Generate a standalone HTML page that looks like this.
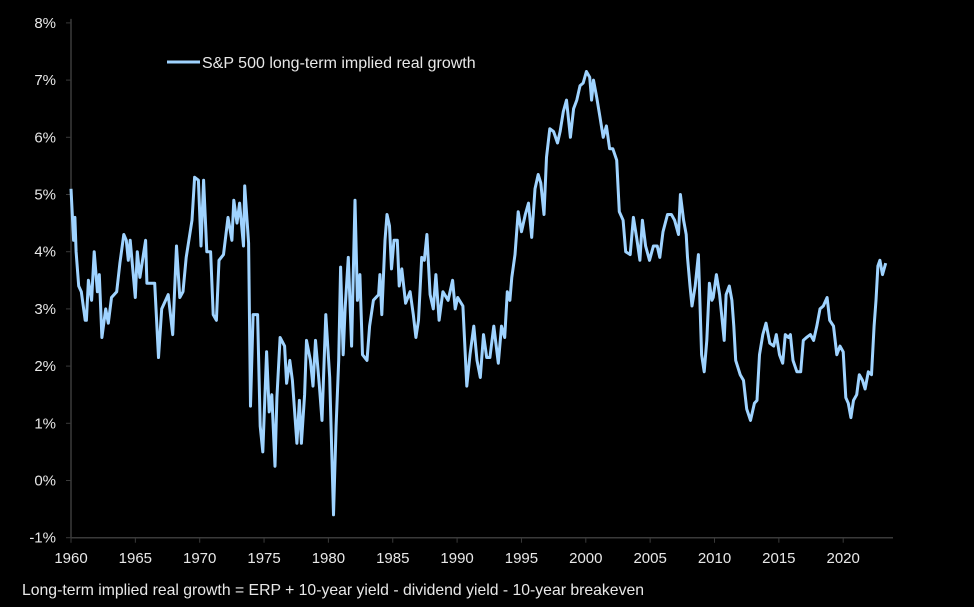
<!DOCTYPE html>
<html><head><meta charset="utf-8"><style>
html,body{margin:0;padding:0;background:#000;}
svg{display:block;}
text{font-family:"Liberation Sans Narrow","Liberation Sans",sans-serif;fill:#e8e8e8;}
</style></head><body>
<svg id="chart" width="974" height="607" viewBox="0 0 974 607" xmlns="http://www.w3.org/2000/svg">
<rect width="974" height="607" fill="#000"/>
<g id="axes"></g>
<path id="series" fill="none" stroke="#9fd3ff" stroke-width="3" stroke-linejoin="round"/>
<g>
<line x1="167" y1="62" x2="200" y2="62" stroke="#9fd3ff" stroke-width="3"/>
<text x="202" y="68" font-size="16">S&amp;P 500 long-term implied real growth</text>
</g>
<text x="22" y="595" font-size="16" textLength="622" lengthAdjust="spacingAndGlyphs">Long-term implied real growth = ERP + 10-year yield - dividend yield - 10-year breakeven</text>
</svg>
<script>
const years = [1960.0,1960.2,1960.3,1960.4,1960.6,1960.8,1961.1,1961.2,1961.35,1961.6,1961.8,1962.05,1962.2,1962.4,1962.7,1962.9,1963.15,1963.55,1963.8,1964.1,1964.3,1964.45,1964.6,1965.0,1965.15,1965.35,1965.8,1965.9,1966.5,1966.8,1967.05,1967.55,1967.9,1968.2,1968.45,1968.7,1968.95,1969.4,1969.6,1969.9,1970.1,1970.3,1970.55,1970.85,1971.05,1971.3,1971.5,1971.85,1972.2,1972.5,1972.65,1972.9,1973.1,1973.4,1973.5,1973.8,1973.95,1974.15,1974.5,1974.7,1974.9,1975.2,1975.4,1975.6,1975.85,1976.0,1976.25,1976.6,1976.75,1977.0,1977.2,1977.55,1977.75,1977.9,1978.15,1978.3,1978.6,1978.8,1979.0,1979.3,1979.5,1979.8,1980.1,1980.4,1980.6,1980.8,1980.95,1981.15,1981.3,1981.55,1981.8,1982.07,1982.25,1982.45,1982.65,1983.0,1983.2,1983.5,1983.9,1984.0,1984.15,1984.4,1984.55,1984.75,1984.9,1985.1,1985.35,1985.5,1985.7,1986.0,1986.35,1986.6,1986.8,1987.0,1987.25,1987.45,1987.65,1987.9,1988.15,1988.35,1988.6,1988.9,1989.3,1989.65,1989.85,1990.05,1990.45,1990.75,1991.0,1991.3,1991.55,1991.8,1992.05,1992.3,1992.55,1992.85,1993.2,1993.45,1993.7,1993.9,1994.1,1994.25,1994.5,1994.75,1995.0,1995.3,1995.55,1995.8,1996.05,1996.3,1996.5,1996.75,1996.95,1997.2,1997.5,1997.8,1998.0,1998.25,1998.5,1998.8,1999.05,1999.3,1999.55,1999.8,2000.05,2000.3,2000.45,2000.6,2000.85,2001.1,2001.35,2001.6,2001.85,2002.1,2002.4,2002.6,2002.9,2003.1,2003.45,2003.7,2003.95,2004.2,2004.4,2004.65,2004.95,2005.25,2005.55,2005.75,2006.0,2006.35,2006.65,2006.9,2007.2,2007.35,2007.6,2007.8,2007.9,2008.1,2008.25,2008.5,2008.75,2009.0,2009.2,2009.4,2009.6,2009.8,2009.9,2010.15,2010.4,2010.75,2010.9,2011.15,2011.35,2011.5,2011.65,2012.0,2012.25,2012.5,2012.8,2013.1,2013.3,2013.5,2013.75,2014.0,2014.3,2014.6,2014.8,2015.05,2015.3,2015.5,2015.75,2015.9,2016.1,2016.4,2016.7,2016.9,2017.15,2017.45,2017.7,2017.95,2018.2,2018.45,2018.75,2018.95,2019.25,2019.5,2019.75,2020.0,2020.2,2020.4,2020.6,2020.8,2021.05,2021.25,2021.5,2021.7,2021.95,2022.2,2022.4,2022.55,2022.7,2022.85,2023.05,2023.3];
const growth = [5.1,4.2,4.6,4.0,3.4,3.3,2.8,2.8,3.5,3.15,4.0,3.3,3.6,2.5,3.0,2.75,3.2,3.3,3.8,4.3,4.2,3.85,4.2,3.2,4.0,3.55,4.2,3.45,3.45,2.15,3.0,3.25,2.55,4.1,3.2,3.3,3.9,4.55,5.3,5.25,4.1,5.25,4.0,4.0,2.9,2.8,3.85,3.95,4.6,4.2,4.9,4.5,4.85,4.1,5.15,4.15,1.3,2.9,2.9,0.95,0.5,2.25,1.2,1.5,0.25,1.45,2.5,2.35,1.7,2.1,1.75,0.65,1.4,0.65,1.5,2.45,2.1,1.65,2.45,1.65,1.05,2.9,1.8,-0.6,0.95,2.1,3.73,2.2,3.0,3.9,2.35,4.9,3.15,3.6,2.2,2.1,2.7,3.15,3.25,3.6,2.9,4.2,4.65,4.45,3.7,4.2,4.2,3.4,3.7,3.1,3.3,2.9,2.5,2.8,3.9,3.85,4.3,3.25,3.0,3.6,2.8,3.3,3.15,3.5,3.0,3.2,3.05,1.65,2.2,2.7,2.1,1.8,2.55,2.15,2.15,2.7,2.05,2.7,2.5,3.3,3.15,3.55,3.95,4.7,4.35,4.65,4.85,4.25,5.1,5.35,5.2,4.65,5.65,6.15,6.1,5.9,6.1,6.45,6.65,6.0,6.5,6.65,6.9,6.95,7.15,7.05,6.65,7.0,6.7,6.35,6.0,6.2,5.8,5.8,5.6,4.7,4.55,4.0,3.95,4.6,4.25,3.85,4.55,4.1,3.85,4.1,4.1,3.9,4.35,4.65,4.65,4.55,4.3,5.0,4.55,4.3,3.9,3.4,3.05,3.4,3.95,2.2,1.9,2.45,3.45,3.15,3.2,3.6,3.25,2.45,3.25,3.4,3.15,2.7,2.1,1.85,1.75,1.25,1.05,1.35,1.4,2.2,2.55,2.75,2.4,2.35,2.55,2.2,2.05,2.55,2.5,2.55,2.1,1.9,1.9,2.45,2.5,2.55,2.45,2.7,3.0,3.05,3.2,2.8,2.7,2.2,2.35,2.25,1.45,1.35,1.1,1.4,1.5,1.85,1.75,1.6,1.9,1.85,2.7,3.15,3.75,3.85,3.6,3.8];
const yTicks = [-1,0,1,2,3,4,5,6,7,8];
const xTicks = [1960,1965,1970,1975,1980,1985,1990,1995,2000,2005,2010,2015,2020];

const NS = "http://www.w3.org/2000/svg";
function xs(yr){ return 71 + (yr - 1960) * 12.87; }
function ys(v){ return 480.5 - v * 57.2; }
const axes = document.getElementById('axes');
function mk(tag, attrs){ const e = document.createElementNS(NS, tag); for (const k in attrs) e.setAttribute(k, attrs[k]); axes.appendChild(e); return e; }

const yAxis = mk('line', {x1:71, y1:ys(8)-4, x2:71, y2:ys(-1), stroke:'#3a3a3a', 'stroke-width':1.5});


const xAxis = mk('line', {x1:71, y1:ys(-1), x2:893, y2:ys(-1), stroke:'#3a3a3a', 'stroke-width':1.5});



yTicks.forEach(v => {
  const t = mk('line', {x1:66, y1:ys(v), x2:71, y2:ys(v), stroke:'#3a3a3a', 'stroke-width':1});
  
  
  const l = mk('text', {x:56, y:ys(v)+5, 'font-size':15, 'text-anchor':'end'});
  
  
  l.textContent = v + '%';
});
xTicks.forEach(yr => {
  const t = mk('line', {x1:xs(yr), y1:ys(-1), x2:xs(yr), y2:ys(-1)+5, stroke:'#3a3a3a', 'stroke-width':1});
  
  
  const l = mk('text', {x:xs(yr), y:563, 'font-size':15, 'text-anchor':'middle'});
  
  
  l.textContent = yr;
});

let d = '';
years.forEach((yr, i) => { d += (i ? 'L' : 'M') + xs(yr).toFixed(1) + ' ' + ys(growth[i]).toFixed(1) + ' '; });
document.getElementById('series').setAttribute('d', d);
</script>
</body></html>
